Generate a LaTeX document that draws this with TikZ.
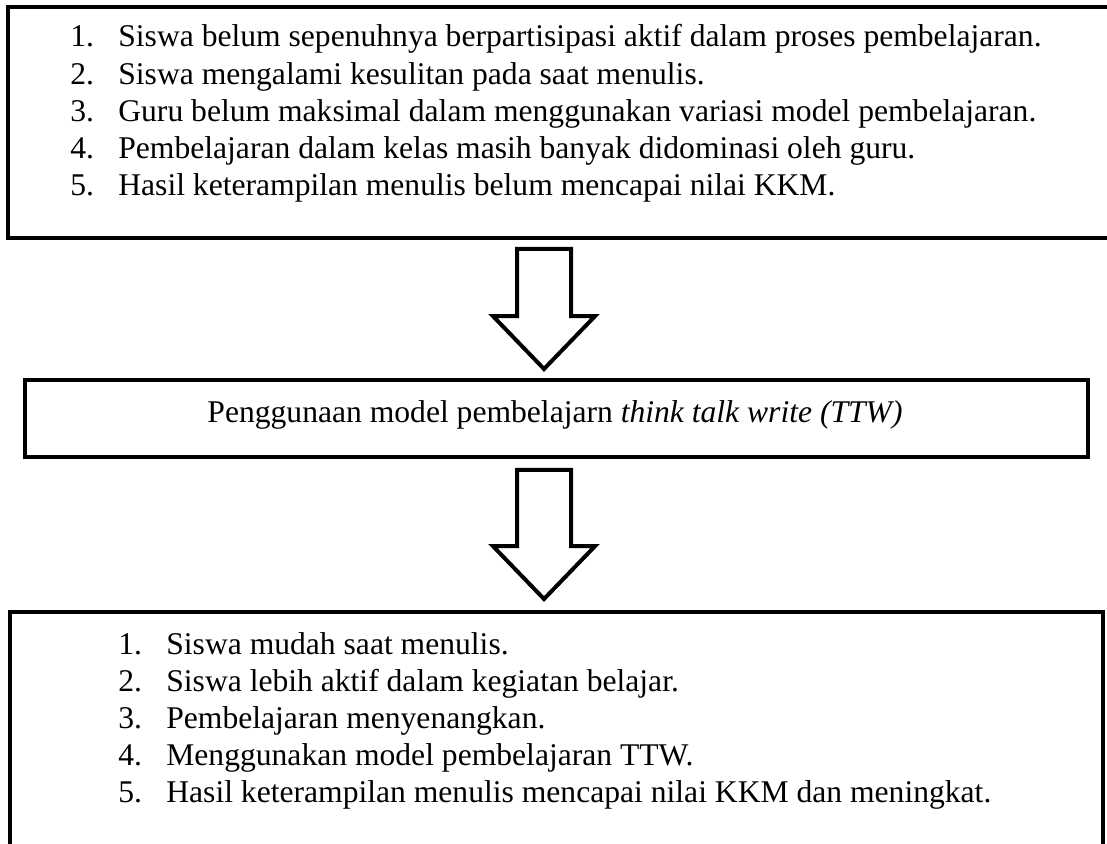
\documentclass[tikz,border=0pt]{standalone}
\usepackage{fontspec}
\setmainfont{Liberation Serif}
\usepackage{tikz}
\usetikzlibrary{positioning,fit,shapes.arrows}

\begin{document}
\begin{tikzpicture}[
    x=0.5pt,y=0.5pt,
    box/.style={draw,line width=2.4pt,inner sep=0pt},
    itemlist/.style={inner sep=0pt,anchor=base west,align=left,font=\fontsize{15.8pt}{18.6pt}\selectfont},
    downarrow/.style={draw,line width=2pt,shape=single arrow,rotate=-90,inner xsep=0pt,inner ysep=12.5pt,
      minimum width=50pt,single arrow head extend=12pt,single arrow tip angle=88}
  ]
    \useasboundingbox (0,0) rectangle (1107,844);
    % three boxes, partly running off the page
    \node[box,fit={(8,837) (1130,606)}] (masalah) {};
    \node[box,fit={(25,464) (1088,387)}] (tindakan) {};
    \node[box,fit={(10,232) (1103,-20)}] (hasil) {};
    \node[itemlist] (masalahlist) at (70,648.3) {%
      \makebox[24pt][l]{1.}Siswa belum sepenuhnya berpartisipasi aktif dalam proses pembelajaran.\\
      \makebox[24pt][l]{2.}Siswa mengalami kesulitan pada saat menulis.\\
      \makebox[24pt][l]{3.}Guru belum maksimal dalam menggunakan variasi model pembelajaran.\\
      \makebox[24pt][l]{4.}Pembelajaran dalam kelas masih banyak didominasi oleh guru.\\
      \makebox[24pt][l]{5.}Hasil keterampilan menulis belum mencapai nilai KKM.};
    \node[itemlist,anchor=base] (tindakantext) at (555,421)
      {Penggunaan model pembelajarn \textit{think talk write (TTW)}};
    \node[itemlist] (hasillist) at (118,41) {%
      \makebox[24pt][l]{1.}Siswa mudah saat menulis.\\
      \makebox[24pt][l]{2.}Siswa lebih aktif dalam kegiatan belajar.\\
      \makebox[24pt][l]{3.}Pembelajaran menyenangkan.\\
      \makebox[24pt][l]{4.}Menggunakan model pembelajaran TTW.\\
      \makebox[24pt][l]{5.}Hasil keterampilan menulis mencapai nilai KKM dan meningkat.};
    \node[downarrow,minimum height=60pt] (panah1) at (544,549) {};
    \node[downarrow,minimum height=64.5pt] (panah2) at (544,323.5) {};
  \end{tikzpicture}
\end{document}
